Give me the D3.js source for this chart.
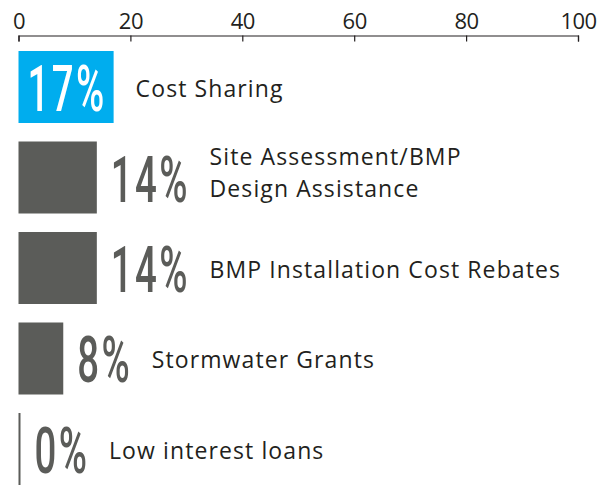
<!DOCTYPE html>
<html>
<head>
<meta charset="utf-8">
<script src="https://cdn.jsdelivr.net/npm/d3@7"></script>
<style>
  html, body { margin: 0; padding: 0; background: #fff; }
  svg { display: block; }
</style>
</head>
<body>
<svg id="chart" width="605" height="485"></svg>
<script>
// Share of programs offering each type of financial incentive (%)
const categories = [
  ["Cost Sharing"],
  ["Site Assessment/BMP", "Design Assistance"],
  ["BMP Installation Cost Rebates"],
  ["Stormwater Grants"],
  ["Low interest loans"]
];
const values = [17, 14, 14, 8, 0];
const highlight = [true, false, false, false, false];
const tickValues = [0, 20, 40, 60, 80, 100];

const BLUE = "#00adee";
const GREY = "#5b5c59";
const INK = "#231f20";

const svg = d3.select("#chart");

const x = d3.scaleLinear().domain([0, 100]).range([18.5, 578]);
const y = d3.scaleBand()
  .domain(d3.range(values.length))
  .range([51, 485])
  .paddingInner(0.2044)
  .paddingOuter(0);

// top axis, ticks hanging below the line
const axis = d3.axisTop(x)
  .tickValues(tickValues)
  .tickFormat(d3.format("d"))
  .tickSizeInner(-6)
  .tickSizeOuter(-6)
  .tickPadding(7);

const gAxis = svg.append("g")
  .attr("transform", "translate(0,35.5)")
  .call(axis);
gAxis.select(".domain").attr("stroke", INK).attr("stroke-width", 1.2);
gAxis.selectAll(".tick line").attr("stroke", INK).attr("stroke-width", 1.2);
gAxis.selectAll(".tick text")
  .attr("fill", INK)
  .style("font-family", "'Open Sans', sans-serif")
  .style("font-size", "22px")
  .style("letter-spacing", "-0.5px");

// bars (a zero value still gets a thin rule)
const rows = svg.append("g").selectAll("g.row")
  .data(values.map((v, i) => ({ v, i, lines: categories[i], hi: highlight[i] })))
  .join("g")
  .attr("class", "row");

rows.append("rect")
  .attr("x", d => x(0))
  .attr("y", d => y(d.i))
  .attr("width", d => Math.max(x(d.v) - x(0), 2))
  .attr("height", y.bandwidth())
  .attr("fill", d => d.hi ? BLUE : GREY);

// condensed percentage labels (horizontally squeezed group)
const SX = 0.6;
rows.each(function (d) {
  const g = d3.select(this);
  const cy = y(d.i) + y.bandwidth() / 2;
  const barEnd = x(d.v) + (d.v === 0 ? 2 : 0);
  const lx = d.hi ? x(0) + 9 : barEnd + 14;
  const vg = g.append("g")
    .attr("transform", `translate(${lx},${cy + 24}) scale(${SX},1)`);
  const t = vg.append("text")
    .text(d.v + "%")
    .attr("fill", d.hi ? "#ffffff" : GREY)
    .style("font-family", "Roboto, sans-serif")
    .style("font-weight", 500)
    .style("font-size", "64px")
    .style("letter-spacing", "4px");
  const labelEnd = lx + (t.node().getComputedTextLength() - 4) * SX;
  const cx = (d.hi ? barEnd : labelEnd) + 22;

  const n = d.lines.length;
  d.lines.forEach((line, k) => {
    g.append("text")
      .attr("x", cx)
      .attr("y", cy + 10 - (n - 1) * 23 + k * 32)
      .attr("fill", INK)
      .style("font-family", "'Open Sans', sans-serif")
      .style("font-size", "23px")
      .style("letter-spacing", "1.1px")
      .text(line);
  });
});
</script>
</body>
</html>
